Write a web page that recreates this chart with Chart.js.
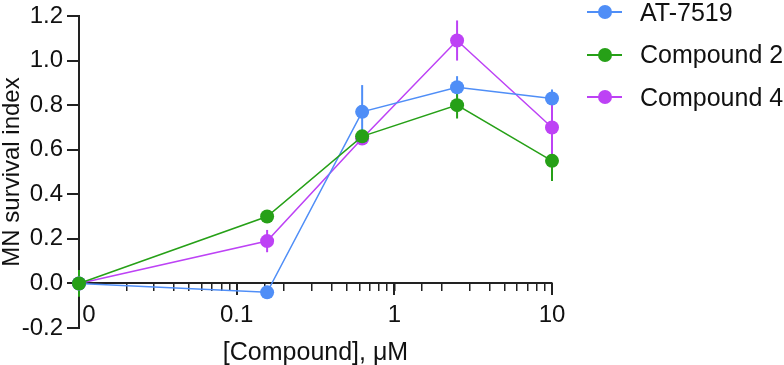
<!DOCTYPE html>
<html>
<head>
<meta charset="utf-8">
<script src="https://cdn.jsdelivr.net/npm/chart.js@4.4.1/dist/chart.umd.min.js"></script>
<style>
  body { margin: 0; background: #fff; }
  #wrap { position: relative; width: 784px; height: 365px; }
  #legend { position: absolute; left: 587px; top: 0; font: 25px "Liberation Sans", Arial, sans-serif; color: #111; }
  .item { display: flex; align-items: center; height: 24px; margin-bottom: 18.5px; white-space: nowrap; }
  .mark { position: relative; width: 35px; height: 14px; margin-right: 18px; }
  .mark .ln { position: absolute; left: 0; right: 0; top: 6px; height: 2px; }
  .mark .dot { position: absolute; left: 10.5px; top: 0; width: 14px; height: 14px; border-radius: 50%; }
</style>
</head>
<body>
<div id="wrap">
  <canvas id="chart" width="784" height="365"></canvas>
  <div id="legend"></div>
</div>
<script>
// Konsentrasi (µM); 0 digambar di posisi 0.01 pada sumbu log
const concentrations = [0, 0.156, 0.625, 2.5, 10];
const zeroPosition = 0.01;

const seriesNames = ['AT-7519', 'Compound 2', 'Compound 4'];
const seriesColors = ['#4f8ef7', '#26a017', '#bd42f5'];

const at7519 = [0, -0.04, 0.77, 0.88, 0.83];
const at7519Err = [0, 0.02, 0.12, 0.05, 0.04];
const compound2 = [0, 0.30, 0.66, 0.80, 0.55];
const compound2Err = [0.06, 0.02, 0.02, 0.06, 0.09];
const compound4 = [0, 0.19, 0.65, 1.09, 0.70];
const compound4Err = [0, 0.05, 0.02, 0.09, 0.13];

const xMajorTicks = [0.1, 1, 10];
const yMin = -0.2, yMax = 1.2, yStep = 0.2;

const FONT = '"Liberation Sans", Arial, sans-serif';
const INK = '#111';
const AXIS = '#222';

const toPoints = vals => vals.map((v, i) => ({ x: concentrations[i] === 0 ? zeroPosition : concentrations[i], y: v }));

const makeSet = (idx, vals, errs, order) => ({
    label: seriesNames[idx],
    data: toPoints(vals),
    errors: errs,
    borderColor: seriesColors[idx],
    backgroundColor: seriesColors[idx],
    borderWidth: 1.5,
    pointRadius: 7,
    pointBorderWidth: 0,
    showLine: true,
    tension: 0,
    clip: false,
    order: order
});

// Error bar vertikal, digambar sebelum garis dan titik
const errorBars = {
    id: 'errorBars',
    beforeDatasetsDraw(chart) {
        const { ctx, scales: { x, y } } = chart;
        chart.data.datasets.forEach(ds => {
            ctx.save();
            ctx.strokeStyle = ds.borderColor;
            ctx.lineWidth = 2;
            ds.data.forEach((p, j) => {
                const e = ds.errors[j];
                if (!e) return;
                const px = x.getPixelForValue(p.x);
                ctx.beginPath();
                ctx.moveTo(px, y.getPixelForValue(p.y - e));
                ctx.lineTo(px, y.getPixelForValue(p.y + e));
                ctx.stroke();
            });
            ctx.restore();
        });
    }
};

const ctx = document.getElementById('chart').getContext('2d');
new Chart(ctx, {
    type: 'scatter',
    data: {
        datasets: [
            makeSet(0, at7519, at7519Err, 1),
            makeSet(1, compound2, compound2Err, 0),
            makeSet(2, compound4, compound4Err, 2)
        ]
    },
    options: {
        responsive: false,
        animation: false,
        layout: { padding: { left: 0, right: 232, top: 13, bottom: 37 } },
        plugins: { legend: { display: false }, tooltip: { enabled: false } },
        scales: {
            // garis sumbu x + tick minor
            x: {
                type: 'logarithmic',
                min: zeroPosition,
                max: 10,
                position: { y: 0 },
                border: { color: AXIS, width: 2 },
                grid: { drawOnChartArea: false, tickLength: 7, color: AXIS, lineWidth: 1.5 },
                ticks: { display: false }
            },
            // tick mayor + label + judul
            xMajor: {
                type: 'logarithmic',
                axis: 'x',
                min: zeroPosition,
                max: 10,
                position: { y: 0 },
                afterBuildTicks: s => { s.ticks = xMajorTicks.map(v => ({ value: v })); },
                border: { display: false },
                grid: { drawOnChartArea: false, tickLength: 12, color: AXIS, lineWidth: 2 },
                ticks: {
                    autoSkip: false, maxRotation: 0, padding: 6, color: INK,
                    font: { family: FONT, size: 24 },
                    callback: v => String(v)
                },
                title: {
                    display: true, text: '[Compound], μM', color: INK,
                    font: { family: FONT, size: 25 }, padding: { top: 2, bottom: 0 }
                }
            },
            // label "0"
            xZero: {
                type: 'logarithmic',
                axis: 'x',
                min: zeroPosition,
                max: 10,
                position: { y: 0 },
                afterBuildTicks: s => { s.ticks = [{ value: zeroPosition }]; },
                border: { display: false },
                grid: { drawOnChartArea: false, tickLength: 12, color: 'rgba(0,0,0,0)' },
                ticks: {
                    autoSkip: false, maxRotation: 0, padding: 6, labelOffset: 10, color: INK,
                    font: { family: FONT, size: 24 },
                    callback: () => '0'
                }
            },
            y: {
                min: yMin,
                max: yMax,
                afterFit: s => { s.width = 79; },
                border: { color: AXIS, width: 2 },
                grid: { drawOnChartArea: false, tickLength: 12, color: AXIS, lineWidth: 2 },
                ticks: {
                    stepSize: yStep, padding: 4, color: INK,
                    font: { family: FONT, size: 24, lineHeight: 1 },
                    callback: v => (Math.abs(v) < 1e-9 ? 0 : v).toFixed(1)
                },
                title: {
                    display: true, text: 'MN survival index', color: INK,
                    font: { family: FONT, size: 24, lineHeight: 1 }, padding: 0
                }
            }
        }
    },
    plugins: [errorBars]
});

// Legenda: garis + titik seperti di gambar
const legend = document.getElementById('legend');
seriesNames.forEach((name, i) => {
    const item = document.createElement('div');
    item.className = 'item';
    item.innerHTML = '<span class="mark"><span class="ln" style="background:' + seriesColors[i] +
        '"></span><span class="dot" style="background:' + seriesColors[i] + '"></span></span>' +
        '<span>' + name + '</span>';
    legend.appendChild(item);
});
</script>
</body>
</html>
